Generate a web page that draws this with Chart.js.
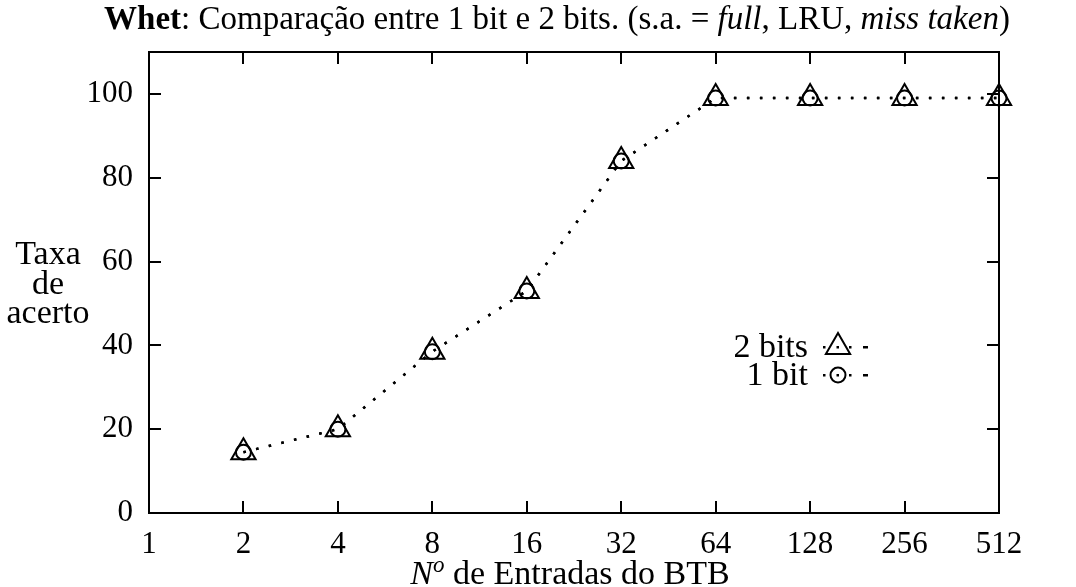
<!DOCTYPE html>
<html>
<head>
<meta charset="utf-8">
<title>Whet: Comparação entre 1 bit e 2 bits</title>
<script src="https://cdn.jsdelivr.net/npm/chart.js@4.4.0/dist/chart.umd.min.js"></script>
<style>
  html, body { margin: 0; padding: 0; background: #fff; }
  #wrap { width: 1076px; height: 587px; }
</style>
</head>
<body>
<div id="wrap"><canvas id="chart" width="1076" height="587"></canvas></div>
<script>
// BTB sizes (number of entries) and hit rates in percent
const entries = [2, 4, 8, 16, 32, 64, 128, 256, 512];
const twoBits = [14.5, 20, 38.5, 53, 84, 99, 99, 99, 99];
const oneBit  = [14.5, 20, 38.5, 53, 84, 99, 99, 99, 99];
const xTicks = [1, 2, 4, 8, 16, 32, 64, 128, 256, 512];
const yTicks = [0, 20, 40, 60, 80, 100];

const FONT = '"Liberation Serif", "Times New Roman", serif';
const INK = '#000';

const toPoints = (vals) => entries.map((x, i) => ({ x: x, y: vals[i] }));

// Frame plus inward tick marks on all four sides
const framePlugin = {
  id: 'frame',
  afterDatasetsDraw(chart) {
    const { ctx, chartArea: a, scales: { x, y } } = chart;
    const len = 12;
    ctx.save();
    ctx.strokeStyle = INK;
    ctx.lineWidth = 2;
    ctx.strokeRect(a.left, a.top, a.right - a.left, a.bottom - a.top);
    ctx.beginPath();
    xTicks.forEach(v => {
      const px = Math.round(x.getPixelForValue(v));
      ctx.moveTo(px, a.bottom); ctx.lineTo(px, a.bottom - len);
      ctx.moveTo(px, a.top); ctx.lineTo(px, a.top + len);
    });
    yTicks.forEach(v => {
      const py = Math.round(y.getPixelForValue(v));
      ctx.moveTo(a.left, py); ctx.lineTo(a.left + len, py);
      ctx.moveTo(a.right, py); ctx.lineTo(a.right - len, py);
    });
    ctx.stroke();
    ctx.restore();
  }
};

// Title, axis titles and the key, drawn as canvas text
const textPlugin = {
  id: 'texts',
  afterDraw(chart) {
    const { ctx } = chart;
    ctx.save();
    ctx.fillStyle = INK;
    ctx.textBaseline = 'alphabetic';

    // Title with mixed weights / styles
    const ts = 33;
    const segs = [
      { t: 'Whet', f: `bold ${ts}px ${FONT}` },
      { t: ': Comparação entre 1 bit e 2 bits. (s.a. = ', f: `${ts}px ${FONT}` },
      { t: 'full', f: `italic ${ts}px ${FONT}` },
      { t: ', LRU, ', f: `${ts}px ${FONT}` },
      { t: 'miss taken', f: `italic ${ts}px ${FONT}` },
      { t: ')', f: `${ts}px ${FONT}` }
    ];
    let total = 0;
    segs.forEach(s => { ctx.font = s.f; s.w = ctx.measureText(s.t).width; total += s.w; });
    let tx = 557 - total / 2;
    ctx.textAlign = 'left';
    segs.forEach(s => { ctx.font = s.f; ctx.fillText(s.t, tx, 29); tx += s.w; });

    // X axis title: N^o de Entradas do BTB
    const size = 34;
    const xs = [
      { t: 'N', f: `italic ${size}px ${FONT}`, dy: 0 },
      { t: 'o', f: `italic 23px ${FONT}`, dy: -12 },
      { t: ' de Entradas do BTB', f: `${size}px ${FONT}`, dy: 0 }
    ];
    total = 0;
    xs.forEach(s => { ctx.font = s.f; s.w = ctx.measureText(s.t).width; total += s.w; });
    tx = 570 - total / 2;
    xs.forEach(s => { ctx.font = s.f; ctx.fillText(s.t, tx, 584 + s.dy); tx += s.w; });

    // Y axis title, stacked
    ctx.font = `${size}px ${FONT}`;
    ctx.textAlign = 'center';
    ['Taxa', 'de', 'acerto'].forEach((t, i) => ctx.fillText(t, 48, 264 + i * 29.5));

    // Key
    const keyX = 808;
    const rows = [
      { label: '2 bits', y: 347, ds: 0 },
      { label: '1 bit', y: 375, ds: 1 }
    ];
    rows.forEach(r => {
      ctx.fillStyle = INK;
      ctx.font = `${size}px ${FONT}`;
      ctx.textAlign = 'right';
      ctx.textBaseline = 'middle';
      ctx.fillText(r.label, keyX, r.y + 1);
      const ds = chart.data.datasets[r.ds];
      // dotted sample segment
      ctx.fillRect(823, r.y - 1, 2.5, 2.5);
      ctx.fillRect(849, r.y - 1, 2.5, 2.5);
      ctx.fillRect(863, r.y - 1, 5, 2.5);
      ctx.fillRect(836.5, r.y - 1, 2.5, 2.5);
      ctx.strokeStyle = INK;
      ctx.fillStyle = 'rgba(0,0,0,0)';
      ctx.lineWidth = 2;
      Chart.helpers.drawPoint(ctx, {
        pointStyle: ds.pointStyle,
        radius: ds.pointRadius,
        rotation: 0,
        borderWidth: 2
      }, 838, r.y);
    });
    ctx.restore();
  }
};

new Chart(document.getElementById('chart'), {
  type: 'line',
  data: {
    datasets: [
      {
        label: '2 bits',
        data: toPoints(twoBits),
        borderColor: INK,
        borderWidth: 2.5,
        borderDash: [2.5, 10.5],
        pointStyle: 'triangle',
        pointRadius: 14,
        pointBorderWidth: 2,
        pointBorderColor: INK,
        pointBackgroundColor: 'rgba(0,0,0,0)',
        fill: false,
        tension: 0,
        clip: false
      },
      {
        label: '1 bit',
        data: toPoints(oneBit),
        borderColor: INK,
        borderWidth: 2.5,
        borderDash: [2.5, 10.5],
        pointStyle: 'circle',
        pointRadius: 7.5,
        pointBorderWidth: 2,
        pointBorderColor: INK,
        pointBackgroundColor: 'rgba(0,0,0,0)',
        fill: false,
        tension: 0,
        clip: false
      }
    ]
  },
  options: {
    responsive: false,
    animation: false,
    events: [],
    layout: { padding: { top: 52, right: 77, left: 0, bottom: 0 } },
    plugins: {
      legend: { display: false },
      title: { display: false },
      tooltip: { enabled: false }
    },
    scales: {
      x: {
        type: 'logarithmic',
        min: 1,
        max: 512,
        afterBuildTicks: s => { s.ticks = xTicks.map(v => ({ value: v })); },
        afterFit: s => { s.height = 74; },
        grid: { display: false },
        border: { display: false },
        ticks: {
          autoSkip: false,
          maxRotation: 0,
          padding: 5,
          color: INK,
          font: { family: FONT, size: 31 },
          callback: v => String(v)
        }
      },
      y: {
        type: 'linear',
        min: 0,
        max: 110,
        afterBuildTicks: s => { s.ticks = yTicks.map(v => ({ value: v })); },
        afterFit: s => { s.width = 149; },
        grid: { display: false },
        border: { display: false },
        ticks: {
          padding: 8,
          color: INK,
          font: { family: FONT, size: 31 }
        }
      }
    }
  },
  plugins: [framePlugin, textPlugin]
});
</script>
</body>
</html>
